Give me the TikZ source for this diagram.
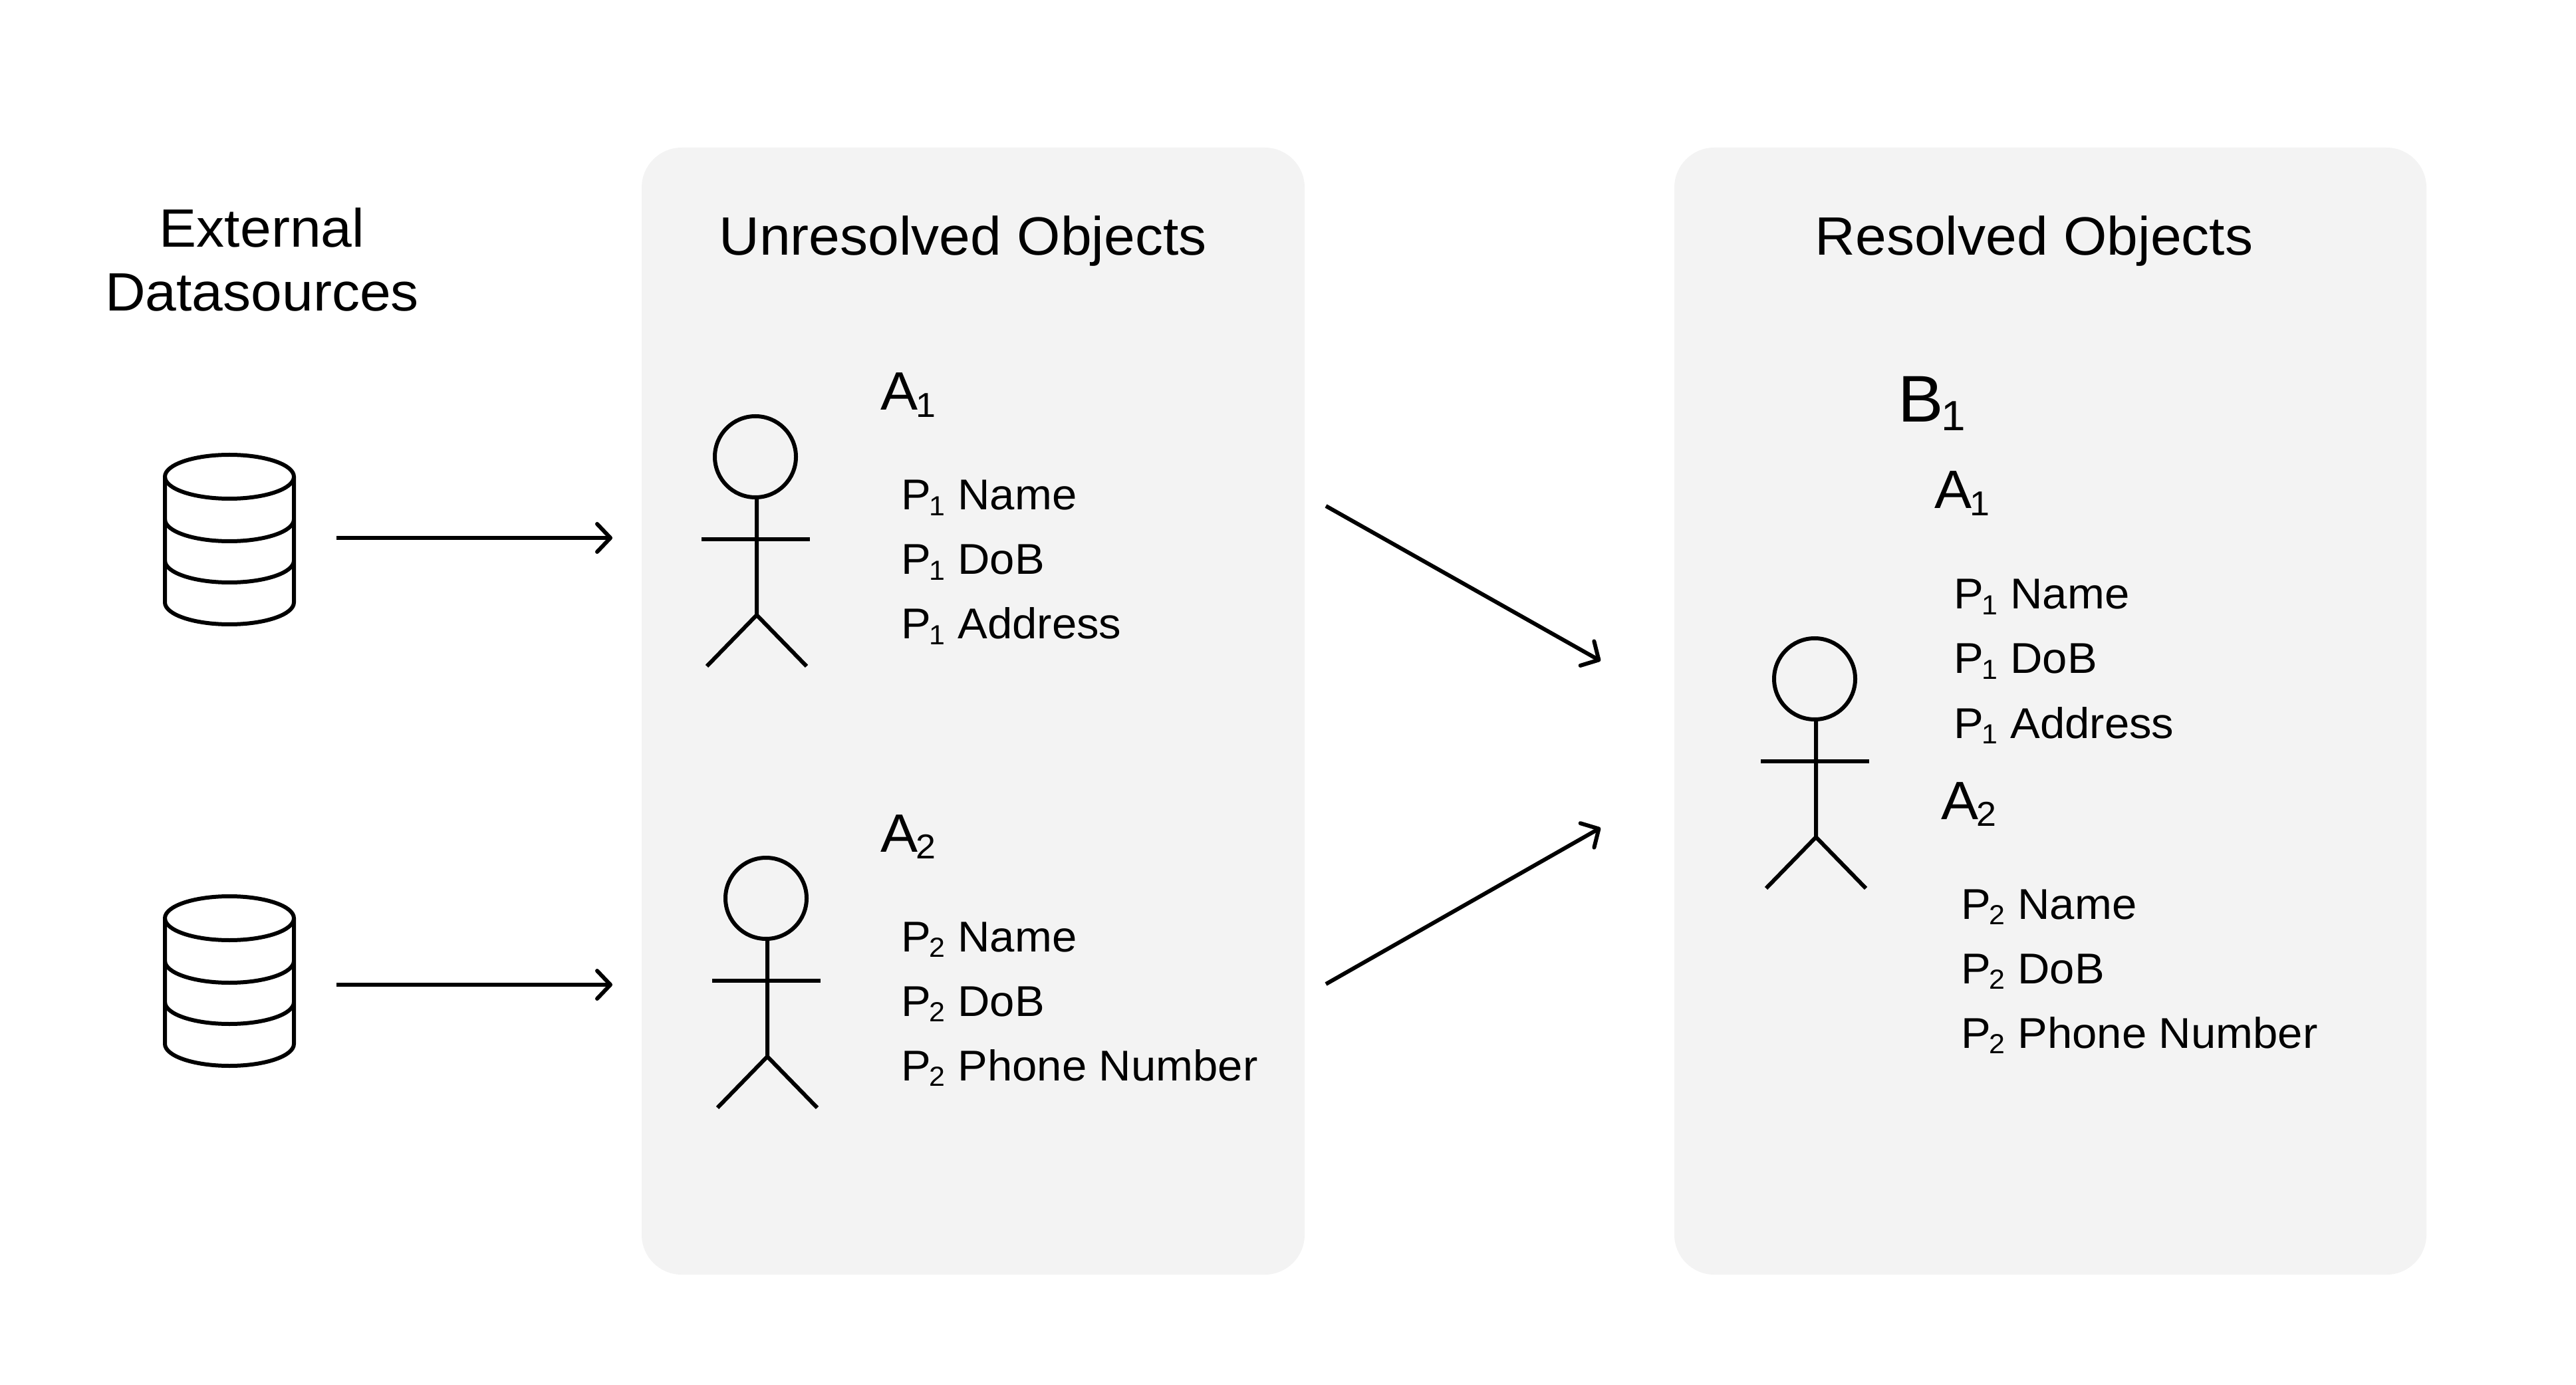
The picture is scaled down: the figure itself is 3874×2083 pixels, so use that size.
\documentclass[tikz,border=0pt]{standalone}
\usepackage{fontspec}
\setmainfont[FakeStretch=1.035]{Liberation Sans}
\usetikzlibrary{arrows.meta,positioning,calc}
\definecolor{panelgray}{HTML}{F3F3F3}
\newcommand{\psub}[1]{\kern-.04em\raisebox{-.125em}{\scalebox{0.64}{#1}}}
\tikzstyle{panel}=[fill=panelgray, rounded corners=15pt]
\tikzstyle{line}=[black, line width=1.5pt]
\tikzstyle{arrow}=[line, -{Straight Barb[length=5pt,width=10.5pt,round]}]
\tikzstyle{title}=[inner sep=0, anchor=base, font=\fontsize{20.3}{24}\selectfont]
\tikzstyle{objname}=[inner sep=0, anchor=base west, font=\fontsize{20.3}{24}\selectfont]
\tikzstyle{attr}=[inner sep=0, anchor=base west, font=\fontsize{16.2}{19}\selectfont]
\tikzset{
  pics/stickman/.style={code={
    \draw[line] (0,0) circle[radius=61];
    \draw[line] (2,64) -- (2,238) -- (-73,315) (2,238) -- (77,315);
    \draw[line] (-81,124) -- (82,124);
  }},
  pics/database/.style={code={
    \draw[line] (0,0) ellipse[x radius=97, y radius=33];
    \draw[line] (-97,0) -- (-97,189) arc[start angle=180, end angle=0, x radius=97, y radius=33]
      -- (97,0);
    \draw[line] (-97,64) arc[start angle=180, end angle=0, x radius=97, y radius=33];
    \draw[line] (-97,126) arc[start angle=180, end angle=0, x radius=97, y radius=33];
  }}
}
\begin{document}
\begin{tikzpicture}[x=0.25pt, y=-0.25pt]
  \useasboundingbox (0,0) rectangle (3874,2083);
  % panels
  \fill[panel] (965,222) rectangle (1962,1917);
  \fill[panel] (2518,222) rectangle (3649,1917);
  % titles
  \node[title] (extern1) at (394,372) {External};
  \node[title] (extern2) at (394,468) {Datasources};
  \node[title] (unresolved) at (1448,384) {Unresolved Objects};
  \node[title] (resolved) at (3059,384) {Resolved Objects};
  % datasources
  \pic (db1) at (345,717) {database};
  \pic (db2) at (345,1381) {database};
  \coordinate (db1out) at (506,809);
  \coordinate (db2out) at (506,1481);
  \coordinate (obj1in) at (921,809);
  \coordinate (obj2in) at (921,1481);
  \draw[arrow] (db1out) -- (obj1in);
  \draw[arrow] (db2out) -- (obj2in);
  % unresolved objects
  \pic (man1) at (1136,687) {stickman};
  \pic (man2) at (1152,1351) {stickman};
  \node[objname] (a1) at (1324,617) {A\psub{1}};
  \node[attr] (a1name) at (1355,767) {P\psub{1} Name};
  \node[attr] (a1dob) at ([yshift=-24.25pt]a1name.base west) {P\psub{1} DoB};
  \node[attr] (a1addr) at ([yshift=-24.25pt]a1dob.base west) {P\psub{1} Address};
  \node[objname] (a2) at (1324,1281) {A\psub{2}};
  \node[attr] (a2name) at (1355,1431) {P\psub{2} Name};
  \node[attr] (a2dob) at ([yshift=-24.25pt]a2name.base west) {P\psub{2} DoB};
  \node[attr] (a2phone) at ([yshift=-24.25pt]a2dob.base west) {P\psub{2} Phone Number};
  % merge arrows
  \coordinate (obj1out) at (1994,761);
  \coordinate (obj2out) at (1994,1480);
  \coordinate (merge1) at (2407,994);
  \coordinate (merge2) at (2407,1245);
  \draw[arrow] (obj1out) -- (merge1);
  \draw[arrow] (obj2out) -- (merge2);
  % resolved object
  \pic (man3) at (2729,1021) {stickman};
  \node[objname, font=\fontsize{24.8}{29}\selectfont] (b1) at (2854,635) {B\psub{1}};
  \node[objname] (ra1) at (2909,765) {A\psub{1}};
  \node[attr] (ra1name) at (2938,916) {P\psub{1} Name};
  \node[attr] (ra1dob) at ([yshift=-24.25pt]ra1name.base west) {P\psub{1} DoB};
  \node[attr] (ra1addr) at ([yshift=-24.25pt]ra1dob.base west) {P\psub{1} Address};
  \node[objname] (ra2) at (2919,1232) {A\psub{2}};
  \node[attr] (ra2name) at (2949,1382) {P\psub{2} Name};
  \node[attr] (ra2dob) at ([yshift=-24.25pt]ra2name.base west) {P\psub{2} DoB};
  \node[attr] (ra2phone) at ([yshift=-24.25pt]ra2dob.base west) {P\psub{2} Phone Number};
\end{tikzpicture}
\end{document}
